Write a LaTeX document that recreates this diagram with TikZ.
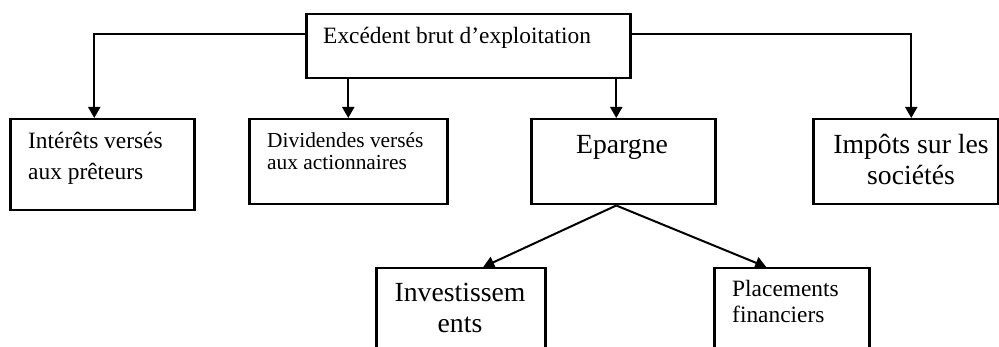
\documentclass[tikz,border=0pt]{standalone}
\usepackage{fontspec}
\setmainfont{Liberation Serif}
\usetikzlibrary{arrows.meta}
\begin{document}
\begin{tikzpicture}[x=1pt,y=-1pt,
  box/.style={draw,line width=2.5pt,inner sep=0pt,anchor=north west},
  conn/.style={line width=2pt,-{Triangle[length=11pt,width=12pt]}},
  fm/.style={inner sep=0pt,font=\fontsize{23.4}{28}\selectfont},
  fs/.style={inner sep=0pt,font=\fontsize{21.4}{25}\selectfont},
  fl/.style={inner sep=0pt,font=\fontsize{27.7}{32}\selectfont}]
\useasboundingbox (0,0) rectangle (999,347);
\clip (0,0) rectangle (999,347);
% boxes
\node[box,minimum width=324pt,minimum height=64pt] (top) at (305,13) {};
\node[box,minimum width=184pt,minimum height=91pt] (b1) at (9,118) {};
\node[box,minimum width=198pt,minimum height=85pt] (b2) at (248,118) {};
\node[box,minimum width=184pt,minimum height=85pt] (b3) at (530,118) {};
\node[box,minimum width=185pt,minimum height=85pt] (b4) at (812,118) {};
\node[box,minimum width=169pt,minimum height=100pt] (b5) at (375,267) {};
\node[box,minimum width=155pt,minimum height=100pt] (b6) at (713,267) {};
% texts
\node[fm,anchor=base west] (t0) at (323,44) {Excédent brut d’exploitation};
\node[fm,anchor=base west] (t1a) at (28,149) {Intérêts versés};
\node[fm,anchor=base west] (t1b) at (28,180) {aux prêteurs};
\node[fs,anchor=base west] (t2a) at (267,148) {Dividendes versés};
\node[fs,anchor=base west] (t2b) at (267,170) {aux actionnaires};
\node[fl,anchor=base] (t3) at (622,154) {Epargne};
\node[fl,anchor=base] (t4a) at (911,154) {Impôts sur les};
\node[fl,anchor=base] (t4b) at (911,185) {sociétés};
\node[fl,anchor=base] (t5a) at (460,302) {Investissem};
\node[fl,anchor=base] (t5b) at (460,333) {ents};
\node[fm,anchor=base west] (t6a) at (732,297) {Placements};
\node[fm,anchor=base west] (t6b) at (732,323) {financiers};
% connectors
\coordinate (e3) at ([xshift=-7pt]b3.north);
\draw[conn] ([yshift=12pt]top.west) -| ([xshift=-8pt]b1.north);
\draw[conn] (top.south -| b2.north) -- (b2.north);
\draw[conn] (top.south -| e3) -- (e3);
\draw[conn] ([yshift=12pt]top.east) -| ([xshift=5.5pt]b4.north);
\draw[conn] ([xshift=-7pt]b3.south) -- ([xshift=22.5pt]b5.north);
\draw[conn] ([xshift=-7pt]b3.south) -- ([xshift=-25.5pt]b6.north);
\end{tikzpicture}
\end{document}
